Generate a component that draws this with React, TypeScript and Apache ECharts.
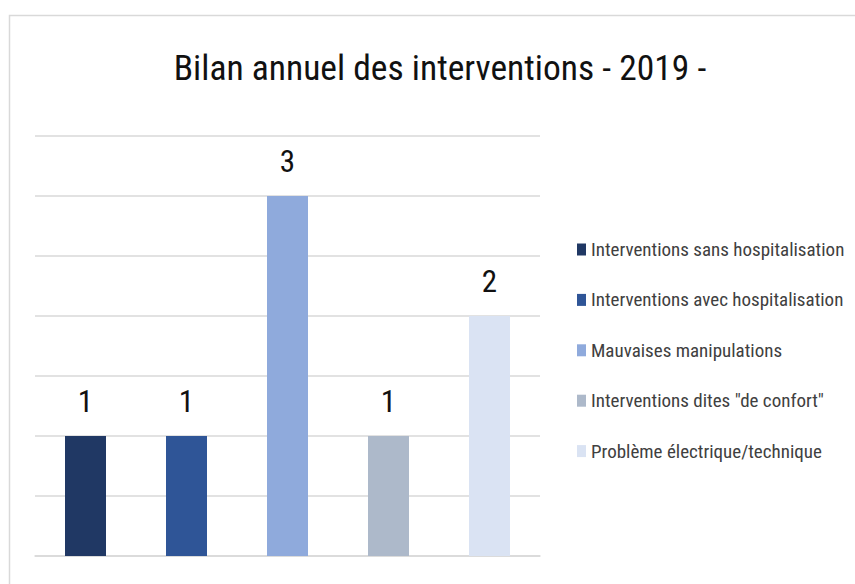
import React, { useEffect, useRef } from "react";
import * as echarts from "echarts";

const categories = [
  "Interventions sans hospitalisation",
  "Interventions avec hospitalisation",
  "Mauvaises manipulations",
  "Interventions dites \"de confort\"",
  "Problème électrique/technique",
];
const values = [1, 1, 3, 1, 2];
const colors = ["#203864", "#2f5597", "#8faadc", "#adb9ca", "#dae3f3"];
const titleText = "Bilan annuel des interventions - 2019 -";

const FONT = "'Roboto Condensed', 'DejaVu Sans Condensed', sans-serif";

export default function App() {
  const ref = useRef<HTMLDivElement>(null);
  useEffect(() => {
    if (!ref.current) return;
    const chart = echarts.init(ref.current, null, { renderer: "svg" });
    const series = categories.map((name, i) => ({
      name,
      type: "bar",
      stack: "all",
      barWidth: 41,
      itemStyle: { color: colors[i] },
      label: {
        show: true,
        position: "top",
        distance: 19,
        fontSize: 31,
        fontFamily: FONT,
        fontWeight: 400,
        color: "#111",
        formatter: (p: any) => (p.value == null ? "" : String(p.value)),
      },
      data: categories.map((_, j) => (j === i ? values[i] : null)),
    }));
    chart.setOption({
      animation: false,
      backgroundColor: "#fff",
      title: {
        text: titleText,
        left: 435,
        textAlign: "center",
        top: 45,
        textStyle: { fontSize: 35.5, fontWeight: 400, color: "#111", fontFamily: FONT },
      },
      graphic: [
        {
          type: "rect",
          shape: { x: 9.5, y: 15.5, width: 900, height: 700 },
          style: { fill: "none", stroke: "#d9d9d9", lineWidth: 1.5 },
          silent: true,
        },
      ],
      legend: {
        orient: "vertical",
        left: 572,
        top: 235,
        itemWidth: 9,
        itemHeight: 12,
        itemGap: 31.4,
        icon: "rect",
        textStyle: { fontSize: 19, color: "#404040", fontFamily: FONT },
        data: categories,
      },
      grid: { left: 35, right: 855 - 540, top: 136, bottom: 584 - 556, containLabel: false },
      xAxis: {
        type: "category",
        data: categories,
        axisLine: { show: true, lineStyle: { color: "#d9d9d9", width: 1.5 } },
        axisTick: { show: false },
        axisLabel: { show: false },
      },
      yAxis: {
        type: "value",
        min: 0,
        max: 3.5,
        interval: 0.5,
        axisLine: { show: false },
        axisTick: { show: false },
        axisLabel: { show: false },
        splitLine: { lineStyle: { color: "#d9d9d9", width: 1.5 } },
      },
      series,
    });
    return () => chart.dispose();
  }, []);
  return (
    <div
      ref={ref}
      style={{ position: "fixed", left: 0, top: 0, width: 855, height: 584 }}
    />
  );
}
